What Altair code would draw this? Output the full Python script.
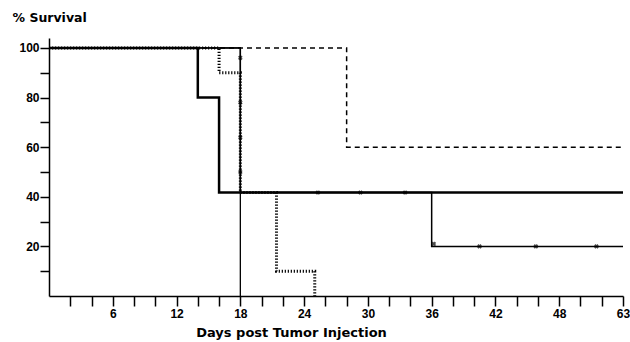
import altair as alt
import pandas as pd

# ---- data ----
dashed_days = [0, 28, 54]
dashed_surv = [100, 60, 60]

dotted_days = [0, 16, 18, 21.4, 25]
dotted_surv = [100, 90, 41.7, 10, 0]

thickA_days = [0, 14, 16, 54]
thickA_surv = [100, 80, 41.7, 41.7]

mediumB_days = [0, 18, 36, 54]
mediumB_surv = [100, 41.7, 20, 20]

thinC_days = [0, 18]
thinC_surv = [100, 0]

censor_days = [25.3, 29.3, 33.5, 36.2, 40.5, 45.8, 51.5, 18, 18, 18, 18]
censor_surv = [41.7, 41.7, 41.7, 21, 20, 20, 20, 96, 78, 64, 50]

x_tick_values = list(range(2, 55, 2))
x_label_values = [6, 12, 18, 24, 30, 36, 42, 48, 54]
x_label_texts = ["6", "12", "18", "24", "30", "36", "42", "48", "63"]

y_tick_values = [10, 20, 30, 40, 50, 60, 70, 80, 90, 100]
y_label_values = [20, 40, 60, 80, 100]
y_label_texts = ["20", "40", "60", "80", "100"]


def frame(days, surv):
    return pd.DataFrame({"day": days, "surv": surv})


x_expr = "".join(
    f"datum.value == {v} ? '{t}' : " for v, t in zip(x_label_values, x_label_texts)
) + "''"
y_expr = "".join(
    f"datum.value == {v} ? '{t}' : " for v, t in zip(y_label_values, y_label_texts)
) + "''"

FONT = "Liberation Sans"
TFONT = "DejaVu Sans"

x_enc = alt.X(
    "day:Q",
    scale=alt.Scale(domain=[0, 54], nice=False, zero=False),
    axis=alt.Axis(
        values=x_tick_values,
        labelExpr=x_expr,
        title="Days post Tumor Injection",
        titleX=242,
        titleY=30,
        titleAnchor="start",
        titleAlign="center",
        titleBaseline="top",
        labelOverlap=False,
        labelFlush=False,
    ),
)
y_enc = alt.Y(
    "surv:Q",
    scale=alt.Scale(domain=[0, 104], nice=False, zero=False),
    axis=alt.Axis(
        values=y_tick_values,
        labelExpr=y_expr,
        title="% Survival",
        titleAngle=0,
        titleX=-37,
        titleY=-21,
        titleAlign="left",
        titleBaseline="middle",
        titleFontSize=12.5,
        tickSize=9,
        labelPadding=1,
        labelOverlap=False,
    ),
)

dotted = alt.Chart(frame(dotted_days, dotted_surv)).mark_line(
    interpolate="step-after", color="black", strokeWidth=3, strokeDash=[1.2, 1.8]
)
thinC = alt.Chart(frame(thinC_days, thinC_surv)).mark_line(
    interpolate="step-after", color="black", strokeWidth=1.3
)
mediumB = alt.Chart(frame(mediumB_days, mediumB_surv)).mark_line(
    interpolate="step-after", color="black", strokeWidth=1.5
)
thickA = alt.Chart(frame(thickA_days, thickA_surv)).mark_line(
    interpolate="step-after", color="black", strokeWidth=2.5
)
dashed = alt.Chart(frame(dashed_days, dashed_surv)).mark_line(
    interpolate="step-after", color="black", strokeWidth=1.5, strokeDash=[5, 4]
)
censor = alt.Chart(frame(censor_days, censor_surv)).mark_point(
    shape="cross", angle=45, filled=True, color="black", size=22
)

chart = (
    alt.layer(dotted, thinC, mediumB, thickA, dashed, censor)
    .encode(x=x_enc, y=y_enc)
    .properties(
        width=574,
        height=258,
        autosize=alt.AutoSizeParams(type="none"),
        padding={"left": 49, "top": 38, "right": 7, "bottom": 46},
        background="white",
    )
    .configure_view(stroke=None)
    .configure_axis(
        grid=False,
        labelOverlap=False,
        domainColor="black",
        domainWidth=1.5,
        tickColor="black",
        tickWidth=1.5,
        tickSize=10,
        labelFont=FONT,
        labelFontSize=12,
        labelFontWeight="bold",
        labelColor="black",
        labelPadding=2,
        titleFont=TFONT,
        titleFontSize=13,
        titleFontWeight="bold",
        titleColor="black",
    )
)

chart.save("out.html", embed_options={"renderer": "svg", "actions": False})
